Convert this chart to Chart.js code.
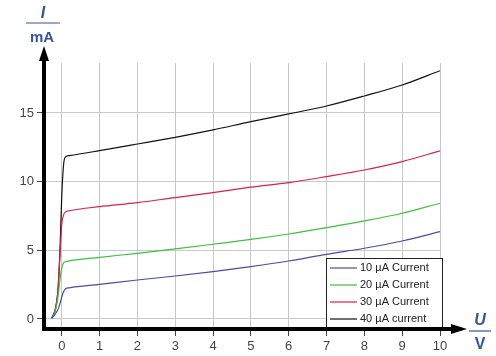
<!DOCTYPE html>
<html>
<head>
<meta charset="utf-8">
<script src="https://cdn.jsdelivr.net/npm/chart.js@4/dist/chart.umd.min.js"></script>
<style>
  html, body { margin: 0; padding: 0; background: #fff; }
  #wrap { width: 496px; height: 356px; }
</style>
</head>
<body>
<div id="wrap"><canvas id="kennlinie" width="496" height="356"></canvas></div>
<script>
// voltage U in V (shared by all curves)
const voltage = [-0.27, -0.2, -0.15, -0.1, -0.05, 0, 0.05, 0.1, 0.2, 1, 2, 3, 4, 5, 6, 7, 8, 9, 10];

// current I in mA
const current10 = [0.05, 0.25, 0.45, 0.7, 1.1, 1.6, 2.0, 2.2, 2.27, 2.52, 2.84, 3.13, 3.45, 3.81, 4.22, 4.71, 5.15, 5.68, 6.36];
const current20 = [0.05, 0.35, 0.8, 1.6, 2.8, 3.7, 4.1, 4.17, 4.23, 4.49, 4.78, 5.1, 5.44, 5.79, 6.19, 6.65, 7.14, 7.7, 8.43];
const current30 = [0.05, 0.4, 1.0, 2.1, 4.6, 6.9, 7.6, 7.8, 7.88, 8.18, 8.47, 8.84, 9.2, 9.6, 9.93, 10.37, 10.85, 11.46, 12.24];
const current40 = [0.05, 0.45, 1.0, 2.1, 4.8, 9.0, 11.3, 11.8, 11.9, 12.26, 12.74, 13.23, 13.77, 14.37, 14.93, 15.51, 16.24, 17.04, 18.08];

const seriesLabels = ['10 µA Current', '20 µA Current', '30 µA Current', '40 µA current'];
const seriesColors = ['#4b4ba3', '#3fbf3f', '#d8204c', '#111111'];

const xTickValues = [0, 1, 2, 3, 4, 5, 6, 7, 8, 9, 10];
const yTickValues = [0, 5, 10, 15];

const allCurrents = [current10, current20, current30, current40];

const fontFamily = '"Liberation Sans", Arial, sans-serif';
const labelBlue = '#34559a';

function pairs(ys) {
    return voltage.map((u, i) => ({ x: u, y: ys[i] }));
}

// axes with arrows, unit labels and the legend box
const decorations = {
    id: 'decorations',
    afterDatasetsDraw(chart) {
        const ctx = chart.ctx;
        const area = chart.chartArea;
        ctx.save();

        // legend box
        const bx = 326, by = 258, bw = 116, bh = 71;
        ctx.fillStyle = '#fff';
        ctx.fillRect(bx, by, bw, bh);
        ctx.strokeStyle = '#222';
        ctx.lineWidth = 1;
        ctx.strokeRect(bx + 0.5, by + 0.5, bw, bh);
        ctx.font = '11px ' + fontFamily;
        ctx.textBaseline = 'middle';
        ctx.textAlign = 'left';
        chart.data.datasets.forEach((ds, i) => {
            const ly = 268 + i * 17;
            ctx.strokeStyle = ds.borderColor;
            ctx.lineWidth = 1.2;
            ctx.beginPath();
            ctx.moveTo(330, ly);
            ctx.lineTo(357, ly);
            ctx.stroke();
            ctx.fillStyle = '#222';
            ctx.fillText(ds.label, 360, ly);
        });

        // thick axes
        ctx.strokeStyle = '#000';
        ctx.fillStyle = '#000';
        ctx.lineWidth = 4;
        ctx.beginPath();
        ctx.moveTo(area.left, area.bottom + 2);
        ctx.lineTo(area.left, 58);
        ctx.moveTo(area.left - 2, area.bottom);
        ctx.lineTo(452, area.bottom);
        ctx.stroke();

        ctx.beginPath();
        ctx.moveTo(area.left, 46);
        ctx.lineTo(area.left - 5, 61);
        ctx.lineTo(area.left + 5, 61);
        ctx.closePath();
        ctx.fill();

        ctx.beginPath();
        ctx.moveTo(467, area.bottom);
        ctx.lineTo(451, area.bottom - 5);
        ctx.lineTo(451, area.bottom + 5);
        ctx.closePath();
        ctx.fill();

        // unit labels I/mA and U/V
        ctx.fillStyle = labelBlue;
        ctx.strokeStyle = labelBlue;
        ctx.lineWidth = 1.2;
        ctx.textAlign = 'center';
        ctx.textBaseline = 'alphabetic';

        ctx.font = 'italic bold 16px ' + fontFamily;
        ctx.fillText('I', 43, 18);
        ctx.beginPath();
        ctx.moveTo(26, 23);
        ctx.lineTo(60, 23);
        ctx.stroke();
        ctx.font = 'bold 15px ' + fontFamily;
        ctx.fillText('mA', 42, 42);

        ctx.font = 'italic bold 16px ' + fontFamily;
        ctx.fillText('U', 480, 325);
        ctx.beginPath();
        ctx.moveTo(469, 331);
        ctx.lineTo(491, 331);
        ctx.stroke();
        ctx.font = 'bold 16px ' + fontFamily;
        ctx.fillText('V', 480, 349);

        ctx.restore();
    }
};

new Chart(document.getElementById('kennlinie').getContext('2d'), {
    type: 'line',
    data: {
        datasets: allCurrents.map((ys, i) => ({
            label: seriesLabels[i],
            data: pairs(ys),
            borderColor: seriesColors[i],
            backgroundColor: seriesColors[i],
            borderWidth: 1.2,
            pointRadius: 0,
            fill: false,
            cubicInterpolationMode: 'monotone'
        }))
    },
    options: {
        responsive: false,
        animation: false,
        layout: { padding: { left: 0, right: 56, top: 63, bottom: 0 } },
        plugins: {
            legend: { display: false },
            tooltip: { enabled: false }
        },
        scales: {
            x: {
                type: 'linear',
                min: -0.47,
                max: 10,
                afterBuildTicks: (scale) => { scale.ticks = xTickValues.map(v => ({ value: v })); },
                afterFit: (scale) => { scale.height = 27; },
                grid: { color: '#c9c9c9', lineWidth: 1, tickLength: 7, tickColor: '#444' },
                border: { display: false },
                ticks: { color: '#444', font: { family: fontFamily, size: 13 }, padding: 3, maxRotation: 0 }
            },
            y: {
                type: 'linear',
                min: -0.73,
                max: 18.64,
                afterBuildTicks: (scale) => { scale.ticks = yTickValues.map(v => ({ value: v })); },
                afterFit: (scale) => { scale.width = 44; },
                grid: { color: '#c9c9c9', lineWidth: 1, tickLength: 7, tickColor: '#444' },
                border: { display: false },
                ticks: { color: '#444', font: { family: fontFamily, size: 13 }, padding: 3 }
            }
        }
    },
    plugins: [decorations]
});
</script>
</body>
</html>
